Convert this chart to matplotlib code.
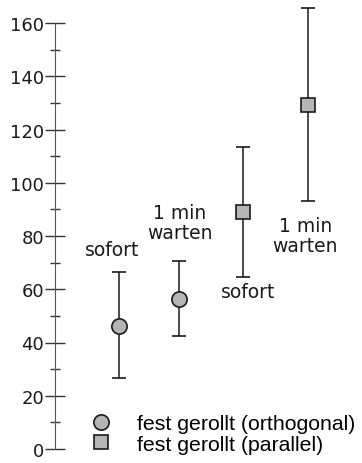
import matplotlib
matplotlib.use('Agg')
import matplotlib.pyplot as plt
from matplotlib.lines import Line2D
from matplotlib.ticker import MultipleLocator

plt.rcParams['font.family'] = ['DejaVu Sans']

# values
groups = ['orthogonal', 'orthogonal', 'parallel', 'parallel']
x_pos = [1.07, 2.07, 3.13, 4.22]
means = [46.2, 56.3, 89.0, 129.2]
upper = [66.5, 70.6, 113.4, 165.6]
lower = [26.7, 42.4, 64.6, 93.1]
labels = ['sofort', '1 min\nwarten', 'sofort', '1 min\nwarten']
label_x = [0.95, 2.08, 3.22, 4.17]
label_y = [75.1, 85.1, 59.0, 80.2]
legend_labels = ['fest gerollt (orthogonal)', 'fest gerollt (parallel)']

FILL = '#b4b4b4'
INK = '#1a1a1a'

fig = plt.figure(figsize=(3.62, 4.64), dpi=100)
ax = fig.add_axes([55 / 362, 3.35 / 464, 306 / 362, 457.95 / 464])
ax.set_xlim(0, 5.1)
ax.set_ylim(-4, 168)

for xi, m, hi, lo, g in zip(x_pos, means, upper, lower, groups):
    mk = 'o' if g == 'orthogonal' else 's'
    ax.errorbar([xi], [m], yerr=[[m - lo], [hi - m]], fmt=mk, ms=11 if mk == 'o' else 10.5,
                mfc=FILL, mec=INK, mew=1.2, ecolor=INK, elinewidth=1.1,
                capsize=5.2, capthick=1.1, zorder=3)

for tx, ty, t in zip(label_x, label_y, labels):
    ax.text(tx, ty, t, ha='center', va='center', fontsize=13.5,
            family='DejaVu Sans', color=INK, linespacing=1.1)

# only the left axis, with crossing ticks
for side in ['top', 'right', 'bottom']:
    ax.spines[side].set_visible(False)
ax.spines['left'].set_bounds(0, 160)
ax.spines['left'].set_color('#555555')
ax.set_xticks([])
ax.yaxis.set_major_locator(MultipleLocator(20))
ax.yaxis.set_minor_locator(MultipleLocator(10))
ax.set_yticks(range(0, 161, 20))
ax.tick_params(axis='y', which='major', direction='inout', length=14, width=1,
               color='#333333', labelsize=13, pad=1, labelcolor=INK)
ax.tick_params(axis='y', which='minor', direction='inout', length=7, width=1,
               color='#333333')
ax.set_facecolor('none')

handles = [Line2D([], [], ls='none', marker='o', ms=11, mfc=FILL, mec=INK, mew=1.2),
           Line2D([], [], ls='none', marker='s', ms=10.5, mfc=FILL, mec=INK, mew=1.2)]
ax.legend(handles, legend_labels, loc='center left', bbox_to_anchor=(90 / 362, 1 - 435 / 464),
          bbox_transform=fig.transFigure, frameon=False, handlelength=1.0,
          handletextpad=1.2, labelspacing=0.05, borderpad=0, borderaxespad=0,
          prop={'family': 'Liberation Sans', 'size': 15.3})

fig.savefig('out.png', dpi=100)
